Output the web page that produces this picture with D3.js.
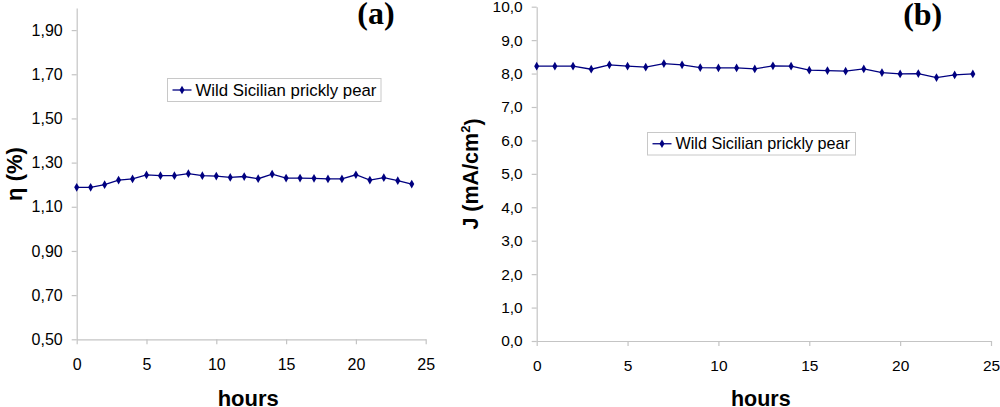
<!DOCTYPE html>
<html>
<head>
<meta charset="utf-8">
<script src="https://cdn.jsdelivr.net/npm/d3@7"></script>
<style>
  html, body { margin: 0; padding: 0; background: #fff; }
  svg { display: block; font-family: "Liberation Sans", Arial, sans-serif; }
</style>
</head>
<body>
<svg id="chart" width="1000" height="407"></svg>
<script>
// hours of continuous illumination
const hours = [0, 1, 2, 3, 4, 5, 6, 7, 8, 9, 10, 11, 12, 13, 14, 15, 16, 17, 18, 19, 20, 21, 22, 23, 24];

// (a) efficiency, %
const efficiency = [1.188, 1.188, 1.200, 1.221, 1.226, 1.244, 1.241, 1.241, 1.250, 1.241, 1.239, 1.233, 1.237,
  1.227, 1.248, 1.230, 1.230, 1.229, 1.226, 1.226, 1.245, 1.221, 1.232, 1.218, 1.203];

// (b) current density, mA/cm2
const current = [8.22, 8.22, 8.22, 8.13, 8.26, 8.22, 8.19, 8.30, 8.26, 8.18, 8.17, 8.17, 8.14,
  8.23, 8.22, 8.10, 8.09, 8.07, 8.14, 8.03, 7.99, 8.00, 7.88, 7.96, 7.99];

const xTicks = [0, 5, 10, 15, 20, 25];
const effTicks = [0.5, 0.7, 0.9, 1.1, 1.3, 1.5, 1.7, 1.9];
const curTicks = [0, 1, 2, 3, 4, 5, 6, 7, 8, 9, 10];
const seriesName = 'Wild Sicilian prickly pear';

const svg = d3.select('#chart');
const axisColor = '#c4c4c4';
const lineColor = '#000080';

function drawPanel(cfg) {
  const x = d3.scaleLinear().domain([0, 25]).range([cfg.left, cfg.right]);
  const y = d3.scaleLinear().domain(cfg.yDomain).range([cfg.bottom, cfg.top]);
  const g = svg.append('g');

  const xAxis = g.append('g')
    .attr('transform', `translate(0,${cfg.bottom})`)
    .call(d3.axisBottom(x).tickValues(xTicks).tickSize(5).tickSizeOuter(0).tickPadding(14)
      .tickFormat(d3.format('d')));
  const yAxis = g.append('g')
    .attr('transform', `translate(${cfg.left},0)`)
    .call(d3.axisLeft(y).tickValues(cfg.yTicks).tickSize(5).tickSizeOuter(0).tickPadding(9)
      .tickFormat(d => d3.format(cfg.fmt)(d).replace('.', ',')));
  [xAxis, yAxis].forEach(a => {
    a.select('.domain').attr('stroke', axisColor).attr('stroke-width', 1.2);
    a.selectAll('.tick line').attr('stroke', axisColor).attr('stroke-width', 1.2);
    a.selectAll('.tick text').attr('fill', '#000').attr('font-size', cfg.tickFont)
      .attr('font-family', '"Liberation Sans", Arial, sans-serif');
  });

  const pts = hours.map((h, i) => ({ h, v: cfg.values[i] }));
  g.append('path')
    .datum(pts)
    .attr('fill', 'none')
    .attr('stroke', lineColor)
    .attr('stroke-width', 1.3)
    .attr('d', d3.line().x(d => x(d.h)).y(d => y(d.v)));
  g.selectAll('path.mk')
    .data(pts)
    .enter()
    .append('path')
    .attr('class', 'mk')
    .attr('transform', d => `translate(${x(d.h)},${y(d.v)})`)
    .attr('d', d3.symbol(d3.symbolDiamond, 22))
    .attr('fill', lineColor);

  // legend box
  const lg = cfg.legend;
  g.append('rect')
    .attr('x', lg.x).attr('y', lg.y).attr('width', lg.w).attr('height', lg.h)
    .attr('fill', '#fff').attr('stroke', '#c8c8c8').attr('stroke-width', 1);
  g.append('line')
    .attr('x1', lg.x + 5).attr('x2', lg.x + 24)
    .attr('y1', lg.y + lg.h / 2).attr('y2', lg.y + lg.h / 2)
    .attr('stroke', lineColor).attr('stroke-width', 1.3);
  g.append('path')
    .attr('transform', `translate(${lg.x + 14.5},${lg.y + lg.h / 2})`)
    .attr('d', d3.symbol(d3.symbolDiamond, 22))
    .attr('fill', lineColor);
  g.append('text')
    .attr('x', lg.x + 28).attr('y', lg.y + lg.h / 2)
    .attr('dy', '0.35em')
    .attr('font-size', lg.font)
    .text(seriesName);

  // axis titles
  g.append('text')
    .attr('x', (cfg.left + cfg.right) / 2 - 3).attr('y', 406)
    .attr('text-anchor', 'middle')
    .attr('font-size', cfg.titleFont).attr('font-weight', 'bold')
    .text('hours');
  const yt = g.append('text')
    .attr('transform', `translate(${cfg.yTitleX},174) rotate(-90)`)
    .attr('text-anchor', 'middle')
    .attr('font-size', cfg.titleFont).attr('font-weight', 'bold');
  cfg.yTitle(yt);

  // panel letter
  g.append('text')
    .attr('x', cfg.tagX).attr('y', cfg.tagY)
    .attr('text-anchor', 'middle')
    .attr('font-family', '"Liberation Serif", "Times New Roman", serif')
    .attr('font-weight', 'bold')
    .attr('font-size', cfg.tagFont)
    .text(cfg.tag);
}

drawPanel({
  left: 76.7, right: 425.7, top: 8, bottom: 339.3,
  yDomain: [0.5, 2.0], yTicks: effTicks, fmt: '.2f', values: efficiency,
  tickFont: '16px', titleFont: '22px',
  legend: { x: 167.5, y: 78.5, w: 213.5, h: 23, font: '16.8px' },
  yTitleX: 22,
  yTitle: t => t.text('η (%)'),
  tag: '(a)', tagX: 376, tagY: 24, tagFont: '32px'
});

drawPanel({
  left: 536.7, right: 991, top: 6.7, bottom: 341,
  yDomain: [0, 10], yTicks: curTicks, fmt: '.1f', values: current,
  tickFont: '15.5px', titleFont: '21.5px',
  legend: { x: 647.5, y: 132.5, w: 208, h: 22.5, font: '16.2px' },
  yTitleX: 478,
  yTitle: t => {
    t.append('tspan').text('J (mA/cm');
    t.append('tspan').attr('font-size', '13px').attr('dy', '-0.6em').text('2');
    t.append('tspan').attr('dy', '0.45em').text(')');
  },
  tag: '(b)', tagX: 922.7, tagY: 25, tagFont: '32px'
});
</script>
</body>
</html>
